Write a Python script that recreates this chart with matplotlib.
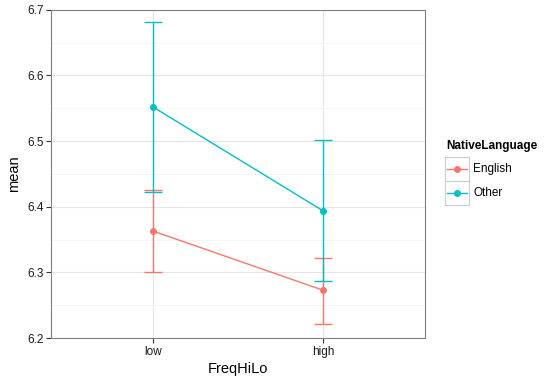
import matplotlib
matplotlib.use('Agg')
import matplotlib.pyplot as plt
from matplotlib.lines import Line2D
from matplotlib.patches import Rectangle

plt.rcParams['font.family'] = ['Liberation Sans', 'DejaVu Sans']

freq = ['low', 'high']
languages = ['English', 'Other']
colors = {'English': '#F8766D', 'Other': '#00BFC4'}
means = {'English': [6.363, 6.273], 'Other': [6.552, 6.394]}
lower = {'English': [6.300, 6.222], 'Other': [6.422, 6.287]}
upper = {'English': [6.426, 6.322], 'Other': [6.682, 6.501]}

fig = plt.figure(figsize=(5.56, 3.79), dpi=100)
ax = fig.add_axes([0.092, 0.108, 0.672, 0.866])

x = list(range(1, len(freq) + 1))
for lang in languages:
    c = colors[lang]
    m = means[lang]
    err = [[m[i] - lower[lang][i] for i in range(len(m))],
           [upper[lang][i] - m[i] for i in range(len(m))]]
    ax.errorbar(x, m, yerr=err, color=c, lw=1.0, capsize=6.5, capthick=1.0,
                elinewidth=1.0, zorder=3)
    ax.plot(x, m, 'o', color=c, ms=4, zorder=4)

ax.set_xlim(0.4, 2.6)
ax.set_ylim(6.2, 6.7)
ax.set_xticks(x)
ax.set_xticklabels(freq)
ax.set_yticks([6.2, 6.3, 6.4, 6.5, 6.6, 6.7])
ax.set_yticks([6.25, 6.35, 6.45, 6.55, 6.65], minor=True)
ax.set_xticks([], minor=True)

ax.grid(which='major', color='#E5E5E5', lw=0.8, zorder=0)
ax.grid(which='minor', axis='y', color='#F4F4F4', lw=0.6, zorder=0)
ax.set_axisbelow(True)
for s in ax.spines.values():
    s.set_color('#7F7F7F')
    s.set_linewidth(0.8)
ax.tick_params(which='major', length=3.5, width=0.8, color='#333333',
               labelsize=8.5, labelcolor='#1a1a1a', pad=2)
ax.tick_params(which='minor', length=0)

ax.set_xlabel('FreqHiLo', fontsize=10.5, labelpad=3)
ax.set_ylabel('mean', fontsize=10.5, labelpad=4)

# legend, drawn by hand to get the ggplot key boxes
W, H = 556.0, 379.0
fig.text(446 / W, 1 - 146 / H, 'NativeLanguage', fontsize=8.5, fontweight='bold',
         ha='left', va='center')
for i, lang in enumerate(languages):
    yc = 1 - (169 + 24 * i) / H
    fig.patches.append(Rectangle((445 / W, yc - 12 / H), 24 / W, 24 / H,
                                 transform=fig.transFigure, facecolor='white',
                                 edgecolor='#CCCCCC', lw=0.8))
    fig.lines.append(Line2D([447 / W, 467 / W], [yc, yc], transform=fig.transFigure,
                            color=colors[lang], lw=1.0))
    fig.lines.append(Line2D([457 / W], [yc], transform=fig.transFigure,
                            color=colors[lang], marker='o', ms=4))
    fig.text(473 / W, yc, lang, fontsize=8.5, ha='left', va='center')

fig.savefig('out.png', dpi=100)
